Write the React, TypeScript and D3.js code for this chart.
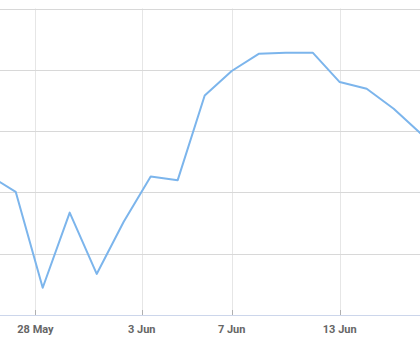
import React from "react";
import * as d3 from "d3";

// Series values (index -1 is the point just off the left edge)
const pointIndex = [-1, 0, 1, 2, 3, 4, 5, 6, 7, 8, 9, 10, 11, 12, 13, 14, 15];
const values = [22.8, 20.1, 4.45, 16.7, 6.7, 15.2, 22.6, 22.0, 35.8, 39.8, 42.6, 42.8, 42.8, 38.0, 36.9, 33.65, 29.6];

// Tick labels and their (ordinal) positions along the index axis
const tickLabels = ["28 May", "3 Jun", "7 Jun", "13 Jun"];
const tickPositions = [0.733, 4.667, 8, 12];

// Horizontal grid values
const gridValues = [0, 10, 20, 30, 40, 50];

const W = 420;
const H = 350;

export default function App() {
  const x = d3.scaleLinear().domain([0, 15]).range([15.7, 420.7]);
  const y = d3.scaleLinear().domain([0, 50]).range([315, 8.5]);
  const data = pointIndex.map((i, k) => ({ i, v: values[k] }));
  const line = d3
    .line<{ i: number; v: number }>()
    .x((d) => x(d.i))
    .y((d) => y(d.v));

  return (
    <svg
      width={W}
      height={H}
      style={{ position: "absolute", left: 0, top: 0, background: "#fff" }}
      fontFamily="Roboto, 'Noto Sans', sans-serif"
    >
      <rect x={0} y={0} width={W} height={H} fill="#ffffff" />
      {tickPositions.map((t, k) => (
        <line
          key={"vg" + k}
          x1={Math.round(x(t)) + 0.5}
          x2={Math.round(x(t)) + 0.5}
          y1={y(50)}
          y2={y(0)}
          stroke="#e6e6e6"
          strokeWidth={1}
        />
      ))}
      {gridValues.slice(1).map((g, k) => (
        <line
          key={"hg" + k}
          x1={0}
          x2={W}
          y1={Math.round(y(g)) + 0.5}
          y2={Math.round(y(g)) + 0.5}
          stroke="#d8d8d8"
          strokeWidth={1}
        />
      ))}
      <line x1={0} x2={W} y1={Math.round(y(0)) + 0.5} y2={Math.round(y(0)) + 0.5} stroke="#ccd6eb" strokeWidth={1} />
      {tickPositions.map((t, k) => (
        <line
          key={"tk" + k}
          x1={Math.round(x(t)) + 0.5}
          x2={Math.round(x(t)) + 0.5}
          y1={y(0) - 5}
          y2={y(0)}
          stroke="#b0b0b0"
          strokeWidth={1}
        />
      ))}
      <path d={line(data) || ""} fill="none" stroke="#7cb5ec" strokeWidth={2} strokeLinejoin="round" strokeLinecap="round" />
      {tickLabels.map((lab, k) => (
        <text
          key={"lb" + k}
          x={x(tickPositions[k])}
          y={333}
          textAnchor="middle"
          fontSize={11}
          fontWeight="bold"
          fill="#666666"
        >
          {lab}
        </text>
      ))}
    </svg>
  );
}
